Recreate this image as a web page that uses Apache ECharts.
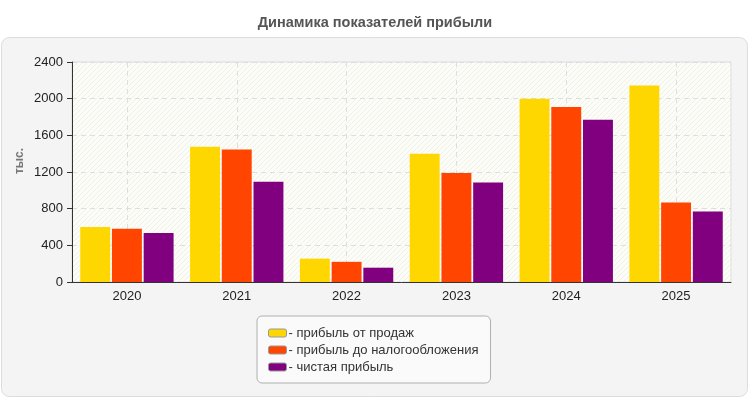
<!DOCTYPE html>
<html><head><meta charset="utf-8">
<script src="https://cdn.jsdelivr.net/npm/echarts@6/dist/echarts.min.js"></script>
<style>html,body{margin:0;padding:0;background:#fff}#c{width:750px;height:400px}</style>
</head><body><div id="c"></div>
<script>
const categories = ['2020','2021','2022','2023','2024','2025'];
const salesProfit = [600, 1475, 255, 1400, 2000, 2145];
const preTaxProfit = [580, 1445, 220, 1190, 1910, 868];
const netProfit = [535, 1095, 156, 1085, 1770, 770];
const seriesNames = ['прибыль от продаж','прибыль до налогообложения','чистая прибыль'];
const yTicks = [0, 400, 800, 1200, 1600, 2000, 2400];
const yAxisName = 'тыс.';

const pc = document.createElement('canvas');
pc.width = 5; pc.height = 5;
const g = pc.getContext('2d');
g.fillStyle = '#fdfdf8'; g.fillRect(0,0,5,5);
g.strokeStyle = '#efefec'; g.lineWidth = 1;
g.beginPath(); g.moveTo(0,5); g.lineTo(5,0); g.moveTo(-2.5,2.5); g.lineTo(2.5,-2.5); g.moveTo(2.5,7.5); g.lineTo(7.5,2.5); g.stroke();

const chart = echarts.init(document.getElementById('c'));
const colors = ['#ffd700','#ff4500','#800080'];
const data = [salesProfit, preTaxProfit, netProfit];
chart.setOption({
  animation:false,
  textStyle:{fontFamily:'Liberation Sans, Arial, sans-serif'},
  title:{text:'Динамика показателей прибыли',left:'center',top:10,textStyle:{fontSize:14.5,fontWeight:'bold',color:'#555'}},
  graphic:[
    {type:'rect',z:-10,shape:{x:1.5,y:37.5,width:746,height:359,r:8},style:{fill:'#f4f4f4',stroke:'#dcdcdc',lineWidth:1}},
    {type:'text',x:20,y:161,rotation:Math.PI/2,style:{text:yAxisName,fontSize:12,fontWeight:'bold',fill:'#777',
      fontFamily:'Liberation Sans, Arial, sans-serif',align:'center',verticalAlign:'middle'}}
  ],
  grid:{left:72,right:19,top:62,bottom:118,show:true,backgroundColor:{image:pc,repeat:'repeat'},borderColor:'#dddddd',borderWidth:1},
  legend:{orient:'vertical',left:257,top:316,padding:[10,12,9,11],itemGap:3,itemWidth:18,itemHeight:8,
    backgroundColor:'#fafafa',borderColor:'#b0b0b0',borderWidth:1,borderRadius:5,
    icon:'roundRect',formatter:n=>'- '+n,textStyle:{fontSize:13,lineHeight:14,color:'#333',padding:[0,0,0,-3]},
    itemStyle:{borderColor:'#999',borderWidth:1}},
  xAxis:{type:'category',data:categories,
    axisLine:{lineStyle:{color:'#333'}},axisTick:{alignWithLabel:true,length:5,lineStyle:{color:'#333'}},
    axisLabel:{fontSize:13,color:'#222',margin:8},
    splitLine:{show:true,alignWithLabel:true,lineStyle:{color:'#dedede',type:[5,4]}}},
  yAxis:{type:'value',min:0,max:2400,interval:400,
    axisLine:{show:true,lineStyle:{color:'#333'}},axisTick:{show:true,length:5,lineStyle:{color:'#333'}},
    axisLabel:{fontSize:13,color:'#222',margin:9,formatter:v=>yTicks.includes(v)?String(v):''},
    splitLine:{show:true,lineStyle:{color:'#dedede',type:[5,4]}}},
  series:data.map((d,i)=>({type:'bar',name:seriesNames[i],data:d,itemStyle:{color:colors[i]},
    barGap:'6%',barCategoryGap:'15%'}))
});
</script></body></html>
